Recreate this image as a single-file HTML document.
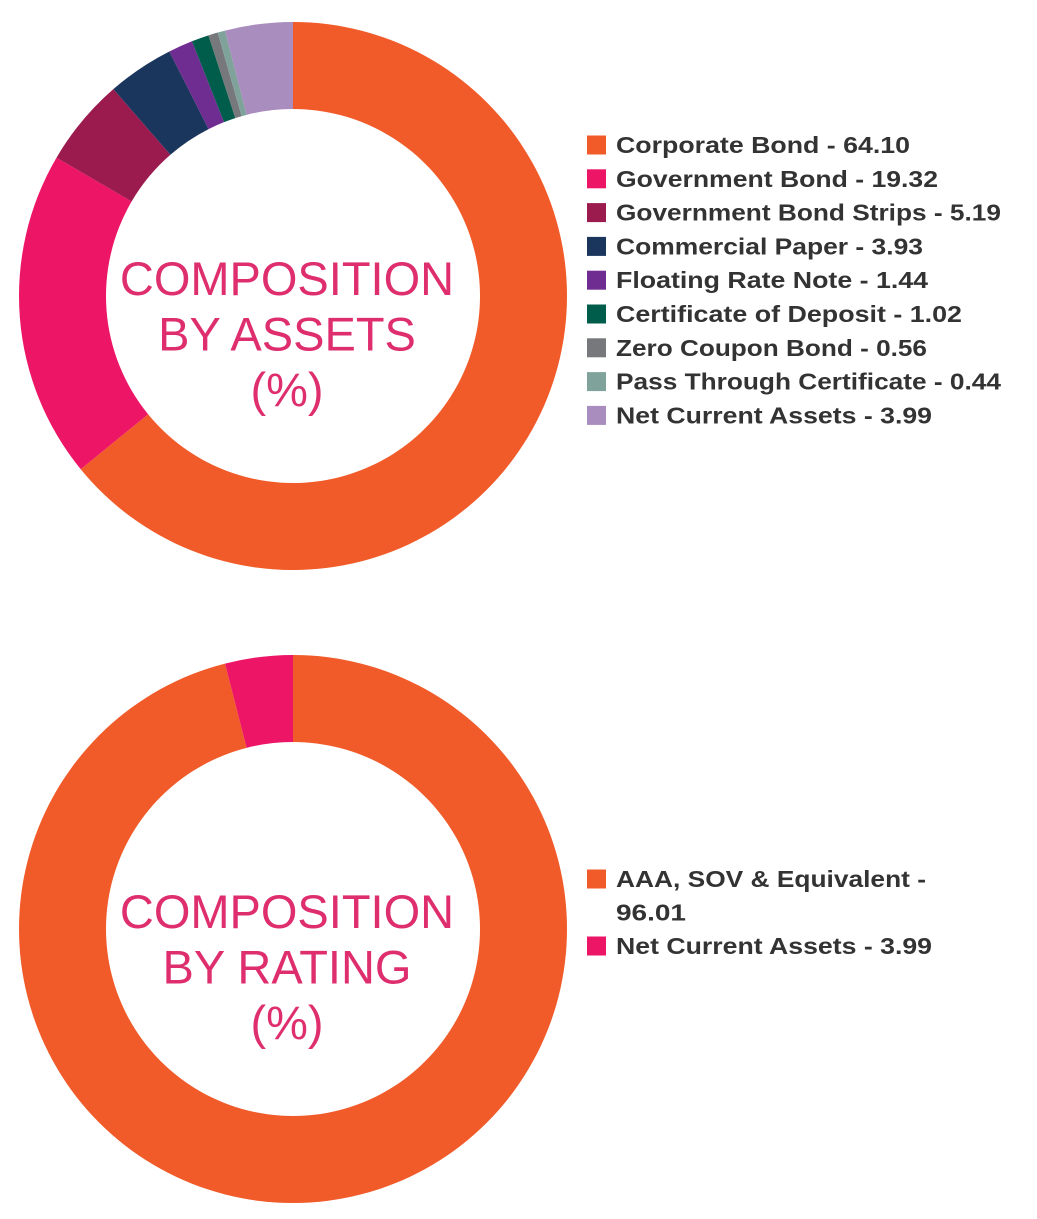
<!DOCTYPE html>
<html><head><meta charset="utf-8"><style>
html,body{margin:0;padding:0;background:#fff;}
svg{display:block;}
</style></head><body>
<svg id="chart" width="1037" height="1219" viewBox="0 0 1037 1219" xmlns="http://www.w3.org/2000/svg">
<g id="topDonut"></g>
<g id="bottomDonut"></g>
</svg>
<script>
const assetLabels = ["Corporate Bond","Government Bond","Government Bond Strips","Commercial Paper","Floating Rate Note","Certificate of Deposit","Zero Coupon Bond","Pass Through Certificate","Net Current Assets"];
const assetValues = [64.10,19.32,5.19,3.93,1.44,1.02,0.56,0.44,3.99];
const assetColors = ["#F15A29","#ED1566","#9B1B4E","#1B365D","#6F2C91","#005C4B","#77787B","#7FA39B","#A98DBE"];
const ratingLabels = ["AAA, SOV & Equivalent","Net Current Assets"];
const ratingValues = [96.01,3.99];
const ratingColors = ["#F15A29","#ED1566"];

const NS="http://www.w3.org/2000/svg";
function mk(tag,attrs,parent){const e=document.createElementNS(NS,tag);for(const k in attrs)e.setAttribute(k,attrs[k]);parent.appendChild(e);return e;}

function donut(g,cx,cy,R,r,vals,cols,title){
  const total=vals.reduce((a,b)=>a+b,0);
  let a0=-Math.PI/2;
  vals.forEach((v,i)=>{
    const a1=a0+v/total*2*Math.PI;
    const large=(a1-a0)>Math.PI?1:0;
    const p=`M${cx+R*Math.cos(a0)},${cy+R*Math.sin(a0)} A${R},${R} 0 ${large} 1 ${cx+R*Math.cos(a1)},${cy+R*Math.sin(a1)} L${cx+r*Math.cos(a1)},${cy+r*Math.sin(a1)} A${r},${r} 0 ${large} 0 ${cx+r*Math.cos(a0)},${cy+r*Math.sin(a0)} Z`;
    const s=mk("path",{d:p,fill:cols[i]},g);
    
    
    a0=a1;
  });
  title.forEach((t,i)=>{
    const tx=mk("text",{x:cx-6,y:cy-1+i*55.5,"text-anchor":"middle","font-family":"Liberation Sans, sans-serif","font-size":"47","fill":"#DE2E6E"},g);
    tx.textContent=t;
    
    
  });
}
function legend(g,items,y0,step,widths){
  items.forEach((it,i)=>{
    const y=y0+i*step;
    if(it.color){
      const r=mk("rect",{x:587,y:y-9.5,width:19,height:19,fill:it.color},g);
      
      
    }
    const t=mk("text",{x:616,y:y+8,"font-family":"Liberation Sans, sans-serif","font-weight":"bold","font-size":"23","fill":"#333333",textLength:widths[i],lengthAdjust:"spacingAndGlyphs"},g);
    t.textContent=it.text;
    
    
  });
}
const topG=document.getElementById('topDonut');
donut(topG,293,296,274,187,assetValues,assetColors,["COMPOSITION","BY ASSETS","(%)"]);
legend(topG,assetLabels.map((l,i)=>({text:l+" - "+assetValues[i].toFixed(2),color:assetColors[i]})),145,33.8,[294,322,385,307,312,346,311,385,316]);

const botG=document.getElementById('bottomDonut');
donut(botG,293,929,274,187,ratingValues,ratingColors,["COMPOSITION","BY RATING","(%)"]);
legend(botG,[{text:ratingLabels[0]+" -",color:ratingColors[0]},{text:ratingValues[0].toFixed(2),color:null},{text:ratingLabels[1]+" - "+ratingValues[1].toFixed(2),color:ratingColors[1]}],879,33.5,[310,70,316]);
</script>
</body></html>
